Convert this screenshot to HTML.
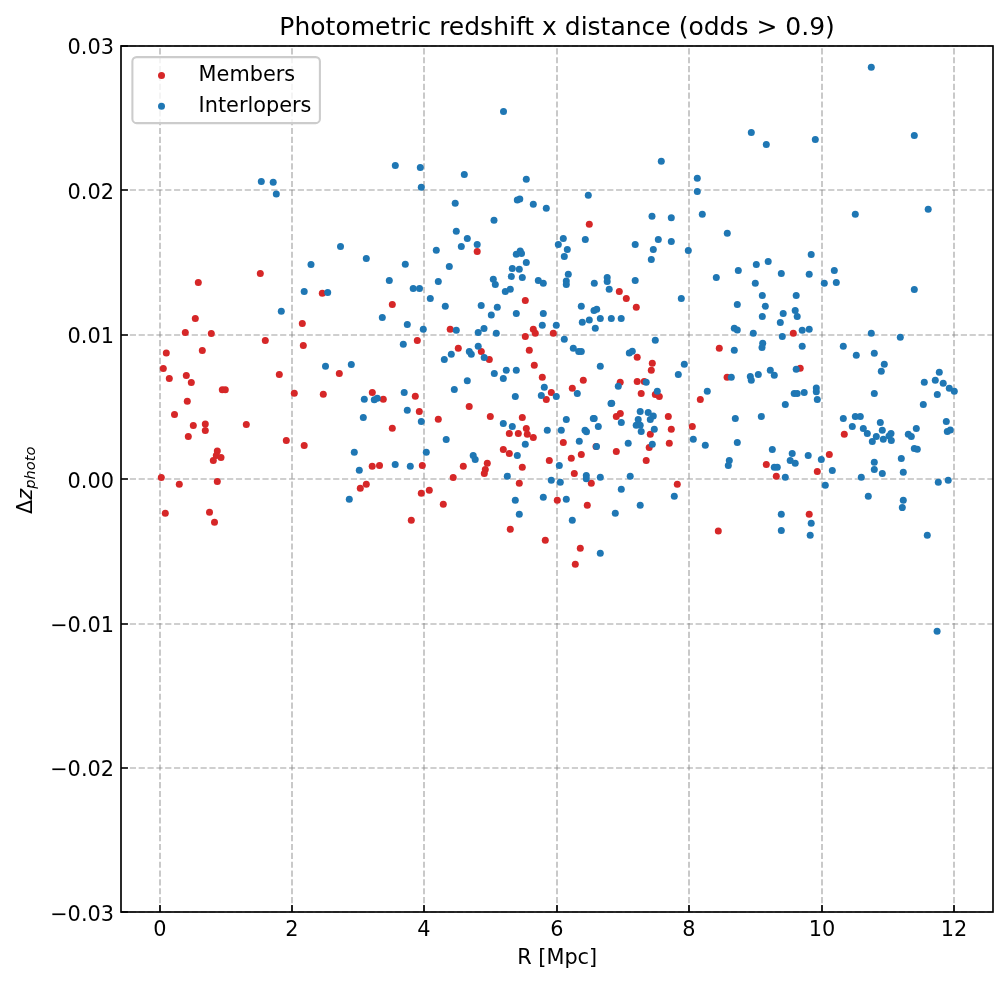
<!DOCTYPE html>
<html lang="en"><head><meta charset="utf-8"><title>Photometric redshift x distance</title>
<style>html,body{margin:0;padding:0;background:#fff}body{width:1008px;height:983px;overflow:hidden}svg text{font-family:"DejaVu Sans","Liberation Sans",sans-serif;fill:#000}</style></head>
<body>
<svg width="1008" height="983" viewBox="0 0 1008 983" style="display:block">
<rect x="0" y="0" width="1008" height="983" fill="#ffffff"/>
<path d="M160.00 912.00V46.00M292.00 912.00V46.00M424.00 912.00V46.00M557.00 912.00V46.00M689.00 912.00V46.00M822.00 912.00V46.00M954.00 912.00V46.00" fill="none" stroke="#808080" stroke-opacity="0.5" stroke-width="1.67" stroke-dasharray="6.17 2.67"/>
<path d="M121.00 912.00H993.00M121.00 768.00H993.00M121.00 624.00H993.00M121.00 479.00H993.00M121.00 335.00H993.00M121.00 190.00H993.00M121.00 46.00H993.00" fill="none" stroke="#808080" stroke-opacity="0.5" stroke-width="1.67" stroke-dasharray="6.17 2.67"/>
<g fill="#d62728"><circle cx="198.3" cy="282.4" r="3.5"/><circle cx="260.3" cy="273.4" r="3.5"/><circle cx="195.3" cy="318.4" r="3.5"/><circle cx="185.3" cy="332.6" r="3.5"/><circle cx="211.3" cy="333.4" r="3.5"/><circle cx="265.3" cy="340.5" r="3.5"/><circle cx="202.3" cy="350.5" r="3.5"/><circle cx="166.3" cy="353.1" r="3.5"/><circle cx="163.3" cy="368.5" r="3.5"/><circle cx="186.3" cy="375.5" r="3.5"/><circle cx="169.3" cy="378.5" r="3.5"/><circle cx="191.3" cy="382.5" r="3.5"/><circle cx="279.3" cy="374.5" r="3.5"/><circle cx="302.3" cy="323.4" r="3.5"/><circle cx="303.3" cy="345.5" r="3.5"/><circle cx="222.3" cy="389.7" r="3.5"/><circle cx="225.3" cy="389.7" r="3.5"/><circle cx="294.3" cy="393.3" r="3.5"/><circle cx="187.3" cy="401.2" r="3.5"/><circle cx="174.5" cy="414.4" r="3.5"/><circle cx="193.3" cy="425.4" r="3.5"/><circle cx="205.3" cy="424.0" r="3.5"/><circle cx="205.3" cy="430.5" r="3.5"/><circle cx="246.3" cy="424.4" r="3.5"/><circle cx="188.3" cy="436.6" r="3.5"/><circle cx="286.3" cy="440.4" r="3.5"/><circle cx="304.2" cy="445.4" r="3.5"/><circle cx="217.3" cy="451.1" r="3.5"/><circle cx="216.3" cy="455.4" r="3.5"/><circle cx="221.0" cy="457.4" r="3.5"/><circle cx="213.3" cy="460.4" r="3.5"/><circle cx="161.3" cy="477.4" r="3.5"/><circle cx="179.3" cy="484.3" r="3.5"/><circle cx="217.3" cy="481.4" r="3.5"/><circle cx="165.3" cy="513.3" r="3.5"/><circle cx="209.5" cy="512.3" r="3.5"/><circle cx="214.5" cy="522.3" r="3.5"/><circle cx="322.3" cy="293.2" r="3.5"/><circle cx="392.3" cy="304.4" r="3.5"/><circle cx="417.3" cy="340.5" r="3.5"/><circle cx="339.3" cy="373.5" r="3.5"/><circle cx="477.2" cy="251.5" r="3.5"/><circle cx="450.2" cy="329.3" r="3.5"/><circle cx="458.3" cy="348.3" r="3.5"/><circle cx="481.3" cy="351.6" r="3.5"/><circle cx="323.3" cy="394.3" r="3.5"/><circle cx="372.3" cy="392.5" r="3.5"/><circle cx="383.3" cy="399.3" r="3.5"/><circle cx="415.3" cy="396.3" r="3.5"/><circle cx="419.3" cy="411.4" r="3.5"/><circle cx="438.3" cy="419.2" r="3.5"/><circle cx="392.3" cy="428.2" r="3.5"/><circle cx="469.2" cy="406.4" r="3.5"/><circle cx="372.2" cy="466.3" r="3.5"/><circle cx="379.5" cy="465.4" r="3.5"/><circle cx="422.3" cy="465.4" r="3.5"/><circle cx="463.3" cy="466.3" r="3.5"/><circle cx="360.3" cy="488.3" r="3.5"/><circle cx="366.3" cy="484.3" r="3.5"/><circle cx="421.3" cy="493.3" r="3.5"/><circle cx="429.3" cy="490.3" r="3.5"/><circle cx="443.3" cy="504.3" r="3.5"/><circle cx="411.3" cy="520.3" r="3.5"/><circle cx="453.2" cy="477.4" r="3.5"/><circle cx="589.3" cy="224.3" r="3.5"/><circle cx="525.3" cy="300.4" r="3.5"/><circle cx="533.3" cy="329.3" r="3.5"/><circle cx="535.3" cy="333.3" r="3.5"/><circle cx="525.3" cy="336.5" r="3.5"/><circle cx="553.3" cy="333.3" r="3.5"/><circle cx="529.3" cy="350.3" r="3.5"/><circle cx="489.3" cy="359.5" r="3.5"/><circle cx="534.3" cy="365.3" r="3.5"/><circle cx="542.3" cy="377.2" r="3.5"/><circle cx="583.3" cy="380.2" r="3.5"/><circle cx="619.3" cy="291.4" r="3.5"/><circle cx="626.3" cy="298.4" r="3.5"/><circle cx="636.3" cy="307.3" r="3.5"/><circle cx="637.2" cy="357.3" r="3.5"/><circle cx="620.2" cy="382.3" r="3.5"/><circle cx="637.2" cy="381.5" r="3.5"/><circle cx="644.2" cy="381.5" r="3.5"/><circle cx="572.3" cy="388.3" r="3.5"/><circle cx="551.3" cy="392.4" r="3.5"/><circle cx="546.3" cy="399.4" r="3.5"/><circle cx="641.2" cy="393.4" r="3.5"/><circle cx="490.3" cy="416.4" r="3.5"/><circle cx="522.3" cy="417.4" r="3.5"/><circle cx="526.3" cy="428.4" r="3.5"/><circle cx="527.3" cy="434.2" r="3.5"/><circle cx="533.3" cy="437.4" r="3.5"/><circle cx="518.3" cy="433.4" r="3.5"/><circle cx="509.3" cy="433.4" r="3.5"/><circle cx="503.3" cy="449.4" r="3.5"/><circle cx="509.3" cy="453.4" r="3.5"/><circle cx="522.3" cy="467.3" r="3.5"/><circle cx="549.3" cy="460.4" r="3.5"/><circle cx="563.3" cy="442.4" r="3.5"/><circle cx="571.3" cy="458.3" r="3.5"/><circle cx="581.3" cy="454.4" r="3.5"/><circle cx="574.3" cy="473.4" r="3.5"/><circle cx="591.3" cy="483.3" r="3.5"/><circle cx="587.3" cy="505.3" r="3.5"/><circle cx="557.3" cy="500.3" r="3.5"/><circle cx="519.3" cy="483.3" r="3.5"/><circle cx="510.3" cy="529.3" r="3.5"/><circle cx="545.3" cy="540.3" r="3.5"/><circle cx="616.3" cy="451.4" r="3.5"/><circle cx="620.3" cy="413.4" r="3.5"/><circle cx="616.3" cy="416.4" r="3.5"/><circle cx="649.2" cy="447.4" r="3.5"/><circle cx="646.2" cy="460.4" r="3.5"/><circle cx="596.0" cy="446.4" r="3.5"/><circle cx="580.3" cy="548.3" r="3.5"/><circle cx="575.3" cy="564.3" r="3.5"/><circle cx="718.3" cy="531.0" r="3.5"/><circle cx="793.3" cy="333.3" r="3.5"/><circle cx="719.3" cy="348.3" r="3.5"/><circle cx="652.3" cy="363.3" r="3.5"/><circle cx="651.3" cy="370.3" r="3.5"/><circle cx="800.2" cy="368.3" r="3.5"/><circle cx="727.1" cy="377.2" r="3.5"/><circle cx="655.3" cy="394.4" r="3.5"/><circle cx="659.3" cy="396.4" r="3.5"/><circle cx="668.3" cy="416.4" r="3.5"/><circle cx="671.3" cy="429.2" r="3.5"/><circle cx="650.3" cy="434.2" r="3.5"/><circle cx="669.3" cy="443.2" r="3.5"/><circle cx="700.3" cy="399.4" r="3.5"/><circle cx="692.3" cy="426.4" r="3.5"/><circle cx="766.3" cy="464.4" r="3.5"/><circle cx="776.3" cy="476.3" r="3.5"/><circle cx="677.3" cy="484.3" r="3.5"/><circle cx="809.2" cy="514.3" r="3.5"/><circle cx="844.3" cy="434.2" r="3.5"/><circle cx="829.3" cy="454.4" r="3.5"/><circle cx="817.3" cy="471.4" r="3.5"/><circle cx="487.3" cy="463.2" r="3.5"/><circle cx="485.3" cy="469.5" r="3.5"/><circle cx="484.3" cy="473.6" r="3.5"/></g>
<g fill="#1f77b4"><circle cx="311.0" cy="264.4" r="3.5"/><circle cx="304.2" cy="291.4" r="3.5"/><circle cx="281.3" cy="311.3" r="3.5"/><circle cx="261.3" cy="181.5" r="3.5"/><circle cx="273.2" cy="182.3" r="3.5"/><circle cx="276.3" cy="194.1" r="3.5"/><circle cx="395.3" cy="165.4" r="3.5"/><circle cx="420.3" cy="167.4" r="3.5"/><circle cx="421.3" cy="187.3" r="3.5"/><circle cx="464.3" cy="174.5" r="3.5"/><circle cx="455.2" cy="203.2" r="3.5"/><circle cx="340.5" cy="246.4" r="3.5"/><circle cx="366.3" cy="258.5" r="3.5"/><circle cx="405.3" cy="264.2" r="3.5"/><circle cx="389.3" cy="280.4" r="3.5"/><circle cx="413.2" cy="288.4" r="3.5"/><circle cx="419.5" cy="288.4" r="3.5"/><circle cx="327.7" cy="292.4" r="3.5"/><circle cx="382.3" cy="317.4" r="3.5"/><circle cx="407.3" cy="324.4" r="3.5"/><circle cx="423.3" cy="329.3" r="3.5"/><circle cx="403.3" cy="344.3" r="3.5"/><circle cx="325.5" cy="366.3" r="3.5"/><circle cx="351.3" cy="364.5" r="3.5"/><circle cx="456.3" cy="231.3" r="3.5"/><circle cx="467.3" cy="238.5" r="3.5"/><circle cx="461.3" cy="246.4" r="3.5"/><circle cx="477.2" cy="244.5" r="3.5"/><circle cx="436.3" cy="250.2" r="3.5"/><circle cx="449.3" cy="266.4" r="3.5"/><circle cx="438.3" cy="281.4" r="3.5"/><circle cx="430.3" cy="298.4" r="3.5"/><circle cx="445.3" cy="306.3" r="3.5"/><circle cx="481.2" cy="305.4" r="3.5"/><circle cx="456.3" cy="330.3" r="3.5"/><circle cx="478.2" cy="332.6" r="3.5"/><circle cx="484.0" cy="328.6" r="3.5"/><circle cx="478.2" cy="346.3" r="3.5"/><circle cx="469.3" cy="351.6" r="3.5"/><circle cx="471.3" cy="354.3" r="3.5"/><circle cx="451.3" cy="354.3" r="3.5"/><circle cx="444.3" cy="359.5" r="3.5"/><circle cx="484.2" cy="357.5" r="3.5"/><circle cx="467.3" cy="380.8" r="3.5"/><circle cx="364.3" cy="399.3" r="3.5"/><circle cx="374.3" cy="399.7" r="3.5"/><circle cx="377.3" cy="398.3" r="3.5"/><circle cx="404.2" cy="392.5" r="3.5"/><circle cx="407.3" cy="410.2" r="3.5"/><circle cx="363.3" cy="417.4" r="3.5"/><circle cx="421.3" cy="421.4" r="3.5"/><circle cx="454.3" cy="389.5" r="3.5"/><circle cx="446.2" cy="439.4" r="3.5"/><circle cx="426.3" cy="452.2" r="3.5"/><circle cx="354.3" cy="452.2" r="3.5"/><circle cx="395.2" cy="464.4" r="3.5"/><circle cx="410.3" cy="466.3" r="3.5"/><circle cx="359.3" cy="470.3" r="3.5"/><circle cx="349.3" cy="499.3" r="3.5"/><circle cx="473.2" cy="455.4" r="3.5"/><circle cx="475.2" cy="459.4" r="3.5"/><circle cx="503.5" cy="111.4" r="3.5"/><circle cx="526.3" cy="179.3" r="3.5"/><circle cx="517.3" cy="200.1" r="3.5"/><circle cx="519.8" cy="199.0" r="3.5"/><circle cx="533.3" cy="204.2" r="3.5"/><circle cx="546.3" cy="208.2" r="3.5"/><circle cx="588.3" cy="195.3" r="3.5"/><circle cx="494.0" cy="220.2" r="3.5"/><circle cx="652.0" cy="216.2" r="3.5"/><circle cx="558.3" cy="244.5" r="3.5"/><circle cx="563.3" cy="238.5" r="3.5"/><circle cx="567.3" cy="249.4" r="3.5"/><circle cx="564.3" cy="256.4" r="3.5"/><circle cx="585.3" cy="239.4" r="3.5"/><circle cx="635.2" cy="244.4" r="3.5"/><circle cx="516.3" cy="254.2" r="3.5"/><circle cx="520.2" cy="251.0" r="3.5"/><circle cx="521.5" cy="253.5" r="3.5"/><circle cx="526.3" cy="262.4" r="3.5"/><circle cx="512.3" cy="268.4" r="3.5"/><circle cx="519.3" cy="269.2" r="3.5"/><circle cx="511.3" cy="276.4" r="3.5"/><circle cx="522.3" cy="277.4" r="3.5"/><circle cx="493.3" cy="279.2" r="3.5"/><circle cx="495.3" cy="284.4" r="3.5"/><circle cx="538.3" cy="280.4" r="3.5"/><circle cx="543.3" cy="283.2" r="3.5"/><circle cx="505.3" cy="291.4" r="3.5"/><circle cx="510.3" cy="289.2" r="3.5"/><circle cx="568.3" cy="274.2" r="3.5"/><circle cx="566.3" cy="281.1" r="3.5"/><circle cx="566.3" cy="284.6" r="3.5"/><circle cx="594.3" cy="283.2" r="3.5"/><circle cx="607.2" cy="277.4" r="3.5"/><circle cx="607.2" cy="281.4" r="3.5"/><circle cx="609.2" cy="289.2" r="3.5"/><circle cx="635.2" cy="280.4" r="3.5"/><circle cx="497.3" cy="307.3" r="3.5"/><circle cx="491.3" cy="315.1" r="3.5"/><circle cx="516.3" cy="313.4" r="3.5"/><circle cx="543.3" cy="313.4" r="3.5"/><circle cx="542.3" cy="325.3" r="3.5"/><circle cx="556.3" cy="325.3" r="3.5"/><circle cx="496.3" cy="333.3" r="3.5"/><circle cx="581.3" cy="306.3" r="3.5"/><circle cx="594.0" cy="310.4" r="3.5"/><circle cx="596.7" cy="309.3" r="3.5"/><circle cx="582.3" cy="322.3" r="3.5"/><circle cx="589.3" cy="320.1" r="3.5"/><circle cx="600.3" cy="318.4" r="3.5"/><circle cx="611.3" cy="318.4" r="3.5"/><circle cx="621.2" cy="318.4" r="3.5"/><circle cx="595.3" cy="328.3" r="3.5"/><circle cx="564.3" cy="339.3" r="3.5"/><circle cx="573.3" cy="348.3" r="3.5"/><circle cx="578.7" cy="351.5" r="3.5"/><circle cx="581.3" cy="351.5" r="3.5"/><circle cx="629.3" cy="353.1" r="3.5"/><circle cx="632.3" cy="351.3" r="3.5"/><circle cx="600.3" cy="366.3" r="3.5"/><circle cx="494.3" cy="373.5" r="3.5"/><circle cx="506.3" cy="370.3" r="3.5"/><circle cx="516.3" cy="370.3" r="3.5"/><circle cx="503.3" cy="378.5" r="3.5"/><circle cx="544.3" cy="387.3" r="3.5"/><circle cx="541.3" cy="395.5" r="3.5"/><circle cx="556.3" cy="396.4" r="3.5"/><circle cx="515.3" cy="396.4" r="3.5"/><circle cx="577.3" cy="393.4" r="3.5"/><circle cx="618.3" cy="386.3" r="3.5"/><circle cx="646.2" cy="382.3" r="3.5"/><circle cx="611.0" cy="403.4" r="3.5"/><circle cx="640.2" cy="411.4" r="3.5"/><circle cx="648.2" cy="412.4" r="3.5"/><circle cx="638.2" cy="419.4" r="3.5"/><circle cx="636.2" cy="425.2" r="3.5"/><circle cx="640.2" cy="425.2" r="3.5"/><circle cx="641.2" cy="431.4" r="3.5"/><circle cx="621.3" cy="422.4" r="3.5"/><circle cx="593.3" cy="418.4" r="3.5"/><circle cx="598.3" cy="426.4" r="3.5"/><circle cx="566.3" cy="419.4" r="3.5"/><circle cx="585.0" cy="430.2" r="3.5"/><circle cx="586.5" cy="431.7" r="3.5"/><circle cx="561.3" cy="430.2" r="3.5"/><circle cx="547.3" cy="430.2" r="3.5"/><circle cx="503.3" cy="423.4" r="3.5"/><circle cx="512.3" cy="426.4" r="3.5"/><circle cx="525.3" cy="444.2" r="3.5"/><circle cx="579.3" cy="441.2" r="3.5"/><circle cx="596.5" cy="446.4" r="3.5"/><circle cx="628.2" cy="443.2" r="3.5"/><circle cx="517.3" cy="455.4" r="3.5"/><circle cx="559.3" cy="465.4" r="3.5"/><circle cx="507.3" cy="476.3" r="3.5"/><circle cx="551.3" cy="480.3" r="3.5"/><circle cx="560.3" cy="482.3" r="3.5"/><circle cx="586.3" cy="475.6" r="3.5"/><circle cx="586.3" cy="478.8" r="3.5"/><circle cx="600.3" cy="477.3" r="3.5"/><circle cx="630.2" cy="476.3" r="3.5"/><circle cx="621.3" cy="489.3" r="3.5"/><circle cx="543.3" cy="497.3" r="3.5"/><circle cx="566.3" cy="499.3" r="3.5"/><circle cx="515.3" cy="500.3" r="3.5"/><circle cx="519.3" cy="514.3" r="3.5"/><circle cx="572.3" cy="520.3" r="3.5"/><circle cx="615.3" cy="513.3" r="3.5"/><circle cx="640.2" cy="505.3" r="3.5"/><circle cx="600.3" cy="553.3" r="3.5"/><circle cx="661.3" cy="161.3" r="3.5"/><circle cx="697.3" cy="178.3" r="3.5"/><circle cx="697.3" cy="191.5" r="3.5"/><circle cx="702.3" cy="214.3" r="3.5"/><circle cx="751.3" cy="132.4" r="3.5"/><circle cx="766.3" cy="144.4" r="3.5"/><circle cx="671.3" cy="217.7" r="3.5"/><circle cx="658.3" cy="239.4" r="3.5"/><circle cx="653.3" cy="249.4" r="3.5"/><circle cx="651.3" cy="259.4" r="3.5"/><circle cx="671.3" cy="241.4" r="3.5"/><circle cx="688.3" cy="250.4" r="3.5"/><circle cx="727.3" cy="233.3" r="3.5"/><circle cx="811.2" cy="254.4" r="3.5"/><circle cx="809.2" cy="274.2" r="3.5"/><circle cx="768.2" cy="261.4" r="3.5"/><circle cx="756.3" cy="264.4" r="3.5"/><circle cx="738.3" cy="270.4" r="3.5"/><circle cx="781.3" cy="273.4" r="3.5"/><circle cx="716.3" cy="277.4" r="3.5"/><circle cx="755.3" cy="283.2" r="3.5"/><circle cx="762.3" cy="295.4" r="3.5"/><circle cx="796.2" cy="295.4" r="3.5"/><circle cx="681.3" cy="298.4" r="3.5"/><circle cx="737.3" cy="304.4" r="3.5"/><circle cx="765.3" cy="306.3" r="3.5"/><circle cx="795.2" cy="310.4" r="3.5"/><circle cx="797.2" cy="316.4" r="3.5"/><circle cx="783.2" cy="313.4" r="3.5"/><circle cx="762.3" cy="316.4" r="3.5"/><circle cx="780.3" cy="322.4" r="3.5"/><circle cx="734.3" cy="328.3" r="3.5"/><circle cx="737.3" cy="329.9" r="3.5"/><circle cx="753.3" cy="333.3" r="3.5"/><circle cx="802.2" cy="330.3" r="3.5"/><circle cx="809.2" cy="329.3" r="3.5"/><circle cx="782.3" cy="336.5" r="3.5"/><circle cx="655.3" cy="340.3" r="3.5"/><circle cx="762.7" cy="343.3" r="3.5"/><circle cx="762.0" cy="347.5" r="3.5"/><circle cx="802.2" cy="346.3" r="3.5"/><circle cx="734.3" cy="350.3" r="3.5"/><circle cx="684.3" cy="364.3" r="3.5"/><circle cx="678.3" cy="374.5" r="3.5"/><circle cx="770.3" cy="370.3" r="3.5"/><circle cx="774.3" cy="375.3" r="3.5"/><circle cx="758.3" cy="374.5" r="3.5"/><circle cx="796.2" cy="369.3" r="3.5"/><circle cx="731.3" cy="377.2" r="3.5"/><circle cx="750.3" cy="376.5" r="3.5"/><circle cx="751.3" cy="380.2" r="3.5"/><circle cx="657.3" cy="391.3" r="3.5"/><circle cx="653.3" cy="415.9" r="3.5"/><circle cx="650.3" cy="419.4" r="3.5"/><circle cx="654.3" cy="429.2" r="3.5"/><circle cx="652.3" cy="444.2" r="3.5"/><circle cx="707.3" cy="391.3" r="3.5"/><circle cx="735.3" cy="418.4" r="3.5"/><circle cx="761.3" cy="416.4" r="3.5"/><circle cx="785.3" cy="404.4" r="3.5"/><circle cx="794.2" cy="393.4" r="3.5"/><circle cx="797.2" cy="393.4" r="3.5"/><circle cx="804.2" cy="392.4" r="3.5"/><circle cx="693.3" cy="439.2" r="3.5"/><circle cx="705.3" cy="445.2" r="3.5"/><circle cx="737.3" cy="442.4" r="3.5"/><circle cx="772.3" cy="449.4" r="3.5"/><circle cx="792.2" cy="453.4" r="3.5"/><circle cx="808.2" cy="455.4" r="3.5"/><circle cx="790.2" cy="460.4" r="3.5"/><circle cx="795.2" cy="463.3" r="3.5"/><circle cx="729.3" cy="460.4" r="3.5"/><circle cx="728.3" cy="465.4" r="3.5"/><circle cx="774.3" cy="467.3" r="3.5"/><circle cx="777.3" cy="467.3" r="3.5"/><circle cx="785.3" cy="477.3" r="3.5"/><circle cx="674.3" cy="496.3" r="3.5"/><circle cx="781.3" cy="514.3" r="3.5"/><circle cx="781.3" cy="530.5" r="3.5"/><circle cx="811.2" cy="523.3" r="3.5"/><circle cx="810.2" cy="535.3" r="3.5"/><circle cx="871.3" cy="67.3" r="3.5"/><circle cx="815.3" cy="139.4" r="3.5"/><circle cx="914.3" cy="135.4" r="3.5"/><circle cx="855.3" cy="214.3" r="3.5"/><circle cx="928.2" cy="209.3" r="3.5"/><circle cx="834.3" cy="270.4" r="3.5"/><circle cx="824.3" cy="283.2" r="3.5"/><circle cx="836.3" cy="282.4" r="3.5"/><circle cx="914.3" cy="289.4" r="3.5"/><circle cx="871.3" cy="333.3" r="3.5"/><circle cx="900.3" cy="337.3" r="3.5"/><circle cx="843.3" cy="346.3" r="3.5"/><circle cx="856.3" cy="355.3" r="3.5"/><circle cx="874.3" cy="353.3" r="3.5"/><circle cx="884.3" cy="364.3" r="3.5"/><circle cx="881.3" cy="371.3" r="3.5"/><circle cx="939.3" cy="372.2" r="3.5"/><circle cx="924.3" cy="382.3" r="3.5"/><circle cx="935.3" cy="380.3" r="3.5"/><circle cx="943.2" cy="383.3" r="3.5"/><circle cx="949.3" cy="388.3" r="3.5"/><circle cx="954.3" cy="391.3" r="3.5"/><circle cx="937.3" cy="394.4" r="3.5"/><circle cx="923.3" cy="404.4" r="3.5"/><circle cx="874.3" cy="393.4" r="3.5"/><circle cx="816.3" cy="388.0" r="3.5"/><circle cx="816.3" cy="391.7" r="3.5"/><circle cx="817.3" cy="399.4" r="3.5"/><circle cx="843.3" cy="418.4" r="3.5"/><circle cx="855.3" cy="416.4" r="3.5"/><circle cx="860.3" cy="416.4" r="3.5"/><circle cx="852.3" cy="426.4" r="3.5"/><circle cx="863.3" cy="428.4" r="3.5"/><circle cx="867.3" cy="433.4" r="3.5"/><circle cx="880.3" cy="422.4" r="3.5"/><circle cx="882.3" cy="430.2" r="3.5"/><circle cx="876.3" cy="436.4" r="3.5"/><circle cx="872.3" cy="441.4" r="3.5"/><circle cx="883.3" cy="439.2" r="3.5"/><circle cx="891.0" cy="433.4" r="3.5"/><circle cx="889.0" cy="435.9" r="3.5"/><circle cx="891.3" cy="440.4" r="3.5"/><circle cx="908.3" cy="434.2" r="3.5"/><circle cx="911.3" cy="436.4" r="3.5"/><circle cx="916.3" cy="428.4" r="3.5"/><circle cx="914.3" cy="448.4" r="3.5"/><circle cx="917.3" cy="449.2" r="3.5"/><circle cx="946.3" cy="421.4" r="3.5"/><circle cx="947.3" cy="431.4" r="3.5"/><circle cx="950.3" cy="430.1" r="3.5"/><circle cx="901.3" cy="458.4" r="3.5"/><circle cx="874.3" cy="462.3" r="3.5"/><circle cx="874.3" cy="469.4" r="3.5"/><circle cx="882.3" cy="473.4" r="3.5"/><circle cx="903.3" cy="472.3" r="3.5"/><circle cx="861.3" cy="477.3" r="3.5"/><circle cx="821.3" cy="459.4" r="3.5"/><circle cx="832.3" cy="470.4" r="3.5"/><circle cx="825.3" cy="485.3" r="3.5"/><circle cx="868.3" cy="496.3" r="3.5"/><circle cx="903.3" cy="500.3" r="3.5"/><circle cx="902.3" cy="507.6" r="3.5"/><circle cx="938.3" cy="482.3" r="3.5"/><circle cx="948.2" cy="480.3" r="3.5"/><circle cx="927.3" cy="535.3" r="3.5"/><circle cx="937.1" cy="631.3" r="3.5"/><circle cx="611.7" cy="403.3" r="3.5"/><circle cx="594.2" cy="418.4" r="3.5"/></g>
<path d="M160.00 912.00v-7.0M292.00 912.00v-7.0M424.00 912.00v-7.0M557.00 912.00v-7.0M689.00 912.00v-7.0M822.00 912.00v-7.0M954.00 912.00v-7.0M121.00 912.00h7.0M121.00 768.00h7.0M121.00 624.00h7.0M121.00 479.00h7.0M121.00 335.00h7.0M121.00 190.00h7.0M121.00 46.00h7.0" fill="none" stroke="#000" stroke-width="1.67"/>
<rect x="121.0" y="46.0" width="872.00" height="866.00" fill="none" stroke="#000" stroke-width="1.67"/>
<text x="160.00" y="936" font-size="20.83" text-anchor="middle">0</text>
<text x="292.00" y="936" font-size="20.83" text-anchor="middle">2</text>
<text x="424.00" y="936" font-size="20.83" text-anchor="middle">4</text>
<text x="557.00" y="936" font-size="20.83" text-anchor="middle">6</text>
<text x="689.00" y="936" font-size="20.83" text-anchor="middle">8</text>
<text x="822.00" y="936" font-size="20.83" text-anchor="middle">10</text>
<text x="954.00" y="936" font-size="20.83" text-anchor="middle">12</text>
<text x="114.0" y="921" font-size="20.83" text-anchor="end">−0.03</text>
<text x="114.0" y="776" font-size="20.83" text-anchor="end">−0.02</text>
<text x="114.0" y="632" font-size="20.83" text-anchor="end">−0.01</text>
<text x="114.0" y="488" font-size="20.83" text-anchor="end">0.00</text>
<text x="114.0" y="343" font-size="20.83" text-anchor="end">0.01</text>
<text x="114.0" y="199" font-size="20.83" text-anchor="end">0.02</text>
<text x="114.0" y="54" font-size="20.83" text-anchor="end">0.03</text>
<text x="557.2" y="963.5" font-size="20.83" text-anchor="middle">R [Mpc]</text>
<text transform="translate(31.9 480.3) rotate(-90)" font-size="20.83" text-anchor="middle">Δ<tspan font-style="oblique">z</tspan><tspan font-style="oblique" font-size="14.58" dy="3.1">photo</tspan></text>
<text x="557.1" y="34.8" font-size="25" text-anchor="middle">Photometric redshift x distance (odds &gt; 0.9)</text>
<rect x="132.4" y="57.1" width="187.5" height="66" rx="4.2" ry="4.2" fill="#ffffff" fill-opacity="0.8" stroke="#cccccc" stroke-width="2.08"/>
<circle cx="161.5" cy="75.5" r="3.5" fill="#d62728"/><circle cx="161.5" cy="106.3" r="3.5" fill="#1f77b4"/>
<text x="198.6" y="81.2" font-size="20.83">Members</text>
<text x="198.6" y="112" font-size="20.83">Interlopers</text>
</svg>
</body></html>
